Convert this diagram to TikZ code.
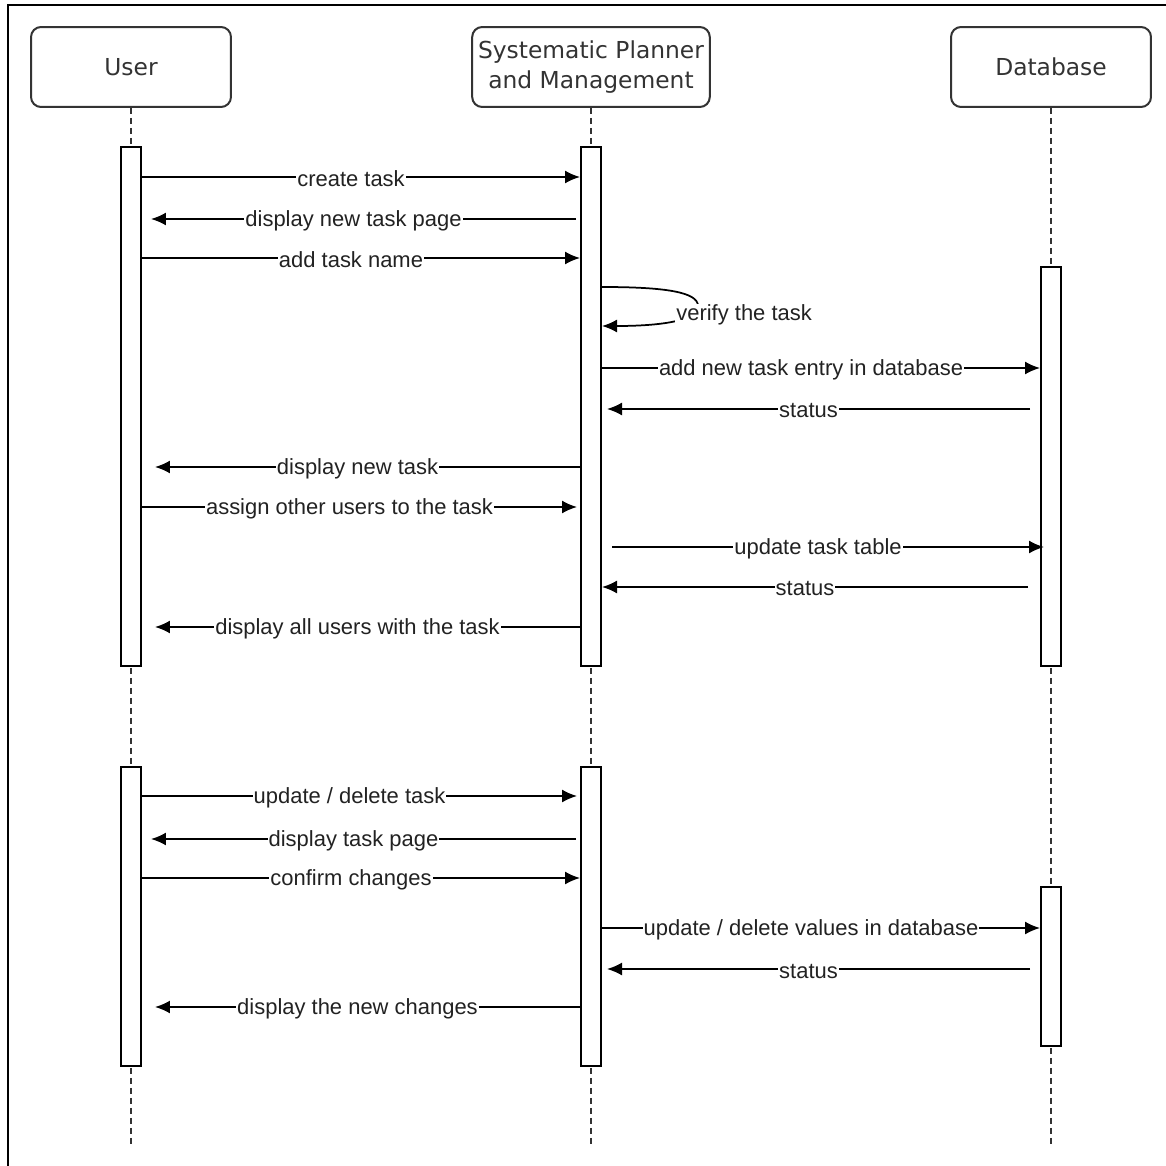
\documentclass[tikz,border=0pt]{standalone}
\usepackage{fontspec}
\newfontfamily\headfont{DejaVu Sans}
\newfontfamily\msgfont{Liberation Sans}
\usetikzlibrary{arrows.meta,calc}
\definecolor{boxgray}{HTML}{333333}
\definecolor{txtgray}{HTML}{222222}

\begin{document}
\begin{tikzpicture}[x=0.02cm,y=-0.02cm,
    actor/.style={draw=boxgray,line width=0.04cm,rounded corners=0.2cm,minimum width=4cm,minimum height=1.6cm,align=center,text=boxgray,font=\headfont\fontsize{13.3}{17}\selectfont},
    bar/.style={draw,line width=0.04cm,fill=white,minimum width=0.4cm,inner sep=0pt},
    life/.style={draw=boxgray,line width=0.025cm,dash pattern=on 0.12cm off 0.08cm},
    msg/.style={line width=0.035cm,-{Latex[length=0.3cm,width=0.26cm]}},
    lbl/.style={fill=white,inner sep=0.02cm,xshift=-0.2cm,yshift=-0.04cm,text=txtgray,font=\msgfont\fontsize{12.5}{14}\selectfont}]
    \useasboundingbox (0,0) rectangle (1166,1166);

    % Frame
    \draw[line width=0.05cm] (8,1166) -- (8,5) -- (1166,5);

    % Lifelines
    \node[actor] (user) at (131,67) {User};
    \node[actor] (spm) at (591,67) {Systematic Planner\\and Management};
    \node[actor] (db) at (1051,67) {Database};
    \coordinate (userend) at (131,1145);
    \coordinate (spmend) at (591,1145);
    \coordinate (dbend) at (1051,1145);
    \draw[life] (user.south) -- (userend);
    \draw[life] (spm.south) -- (spmend);
    \draw[life] (db.south) -- (dbend);

    % Activations
        %first block
        \node[bar,minimum height=10.38cm] (ua) at (131,406.5) {};
        \node[bar,minimum height=10.38cm] (sa) at (591,406.5) {};
        \node[bar,minimum height=7.98cm] (da) at (1051,466.5) {};

        %second block
        \node[bar,minimum height=5.98cm] (ub) at (131,916.5) {};
        \node[bar,minimum height=5.98cm] (sb) at (591,916.5) {};
        \node[bar,minimum height=3.18cm] (dc) at (1051,966.5) {};

    % Messages
        %create
        \draw[msg] (ua.east |- 0,177) -- node[lbl] {create task} (sa.west |- 0,177);
        \draw[msg] ($(sa.west |- 0,219)+(-4,0)$) -- node[lbl] {display new task page} ($(ua.east |- 0,219)+(9,0)$);
        \draw[msg] (ua.east |- 0,258) -- node[lbl] {add task name} (sa.west |- 0,258);
        \draw[msg] (sa.east |- 0,287) .. controls (665,287) and (698,292) .. (698,306) .. controls (698,322) and (655,326) .. (sa.east |- 0,326);
        \node[lbl,anchor=west,xshift=0] (verify) at (685,313) {verify the task};
        \draw[msg] (sa.east |- 0,368) -- node[lbl] {add new task entry in database} (da.west |- 0,368);
        \draw[msg] ($(da.west |- 0,409)+(-10,0)$) -- node[lbl] {status} ($(sa.east |- 0,409)+(5,0)$);
        \draw[msg] (sa.west |- 0,467) -- node[lbl] {display new task} ($(ua.east |- 0,467)+(13,0)$);

        %assign
        \draw[msg] (ua.east |- 0,507) -- node[lbl] {assign other users to the task} ($(sa.west |- 0,507)+(-3,0)$);
        \draw[msg] ($(sa.east |- 0,547)+(10,0)$) -- node[lbl] {update task table} ($(da.west |- 0,547)+(4,0)$);
        \draw[msg] ($(da.west |- 0,587)+(-12,0)$) -- node[lbl] {status} (sa.east |- 0,587);
        \draw[msg] (sa.west |- 0,627) -- node[lbl] {display all users with the task} ($(ua.east |- 0,627)+(13,0)$);

        %update
        \draw[msg] (ub.east |- 0,796) -- node[lbl] {update / delete task} ($(sb.west |- 0,796)+(-3,0)$);
        \draw[msg] ($(sb.west |- 0,839)+(-4,0)$) -- node[lbl] {display task page} ($(ub.east |- 0,839)+(9,0)$);
        \draw[msg] (ub.east |- 0,878) -- node[lbl] {confirm changes} (sb.west |- 0,878);
        \draw[msg] (sb.east |- 0,928) -- node[lbl] {update / delete values in database} (dc.west |- 0,928);
        \draw[msg] ($(dc.west |- 0,969)+(-10,0)$) -- node[lbl] {status} ($(sb.east |- 0,969)+(5,0)$);
        \draw[msg] (sb.west |- 0,1007) -- node[lbl] {display the new changes} ($(ub.east |- 0,1007)+(13,0)$);
\end{tikzpicture}
\end{document}
